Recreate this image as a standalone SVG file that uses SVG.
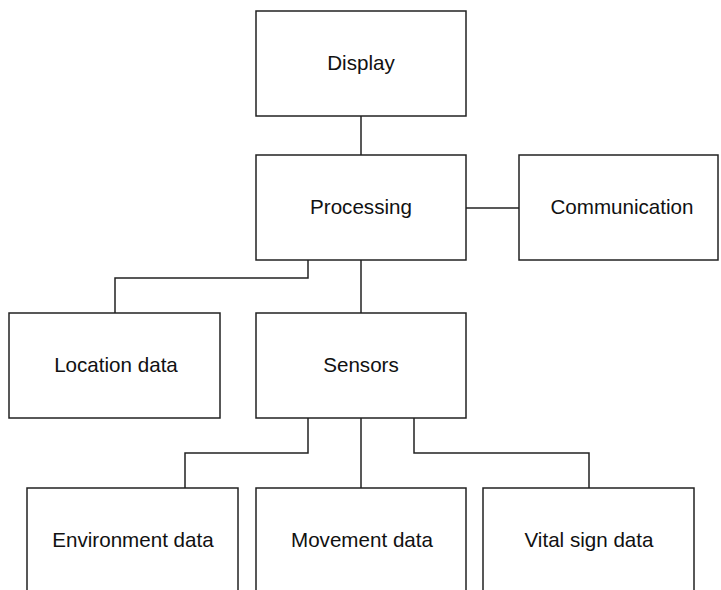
<svg xmlns="http://www.w3.org/2000/svg" width="721" height="590" viewBox="0 0 721 590">
<style>
.box{fill:#fff;stroke:#222;stroke-width:1.5}
.lbl{font-family:"Liberation Sans",Arial,Helvetica,sans-serif;font-size:20.6px;fill:#111;text-anchor:middle}
.conn{fill:none;stroke:#222;stroke-width:1.5}
</style>
<rect width="721" height="590" fill="#fff"/>
<g id="connectors">
<path class="conn" d="M361,116 V155"/>
<path class="conn" d="M466,208 H519"/>
<path class="conn" d="M308,260 V278 H115 V313"/>
<path class="conn" d="M361,260 V313"/>
<path class="conn" d="M308,418 V453 H185 V488"/>
<path class="conn" d="M361,418 V488"/>
<path class="conn" d="M414,418 V453 H589 V488"/>
</g>
<g id="display"><rect class="box" x="256" y="11" width="210" height="105"/><text class="lbl" x="361" y="70">Display</text></g>
<g id="processing"><rect class="box" x="256" y="155" width="210" height="105"/><text class="lbl" x="361" y="214">Processing</text></g>
<g id="communication"><rect class="box" x="519" y="155" width="199" height="105"/><text class="lbl" x="622" y="214">Communication</text></g>
<g id="location"><rect class="box" x="9" y="313" width="211" height="105"/><text class="lbl" x="116" y="372">Location data</text></g>
<g id="sensors"><rect class="box" x="256" y="313" width="210" height="105"/><text class="lbl" x="361" y="372">Sensors</text></g>
<g id="environment"><rect class="box" x="27" y="488" width="211" height="105"/><text class="lbl" x="133" y="547">Environment data</text></g>
<g id="movement"><rect class="box" x="256" y="488" width="210" height="105"/><text class="lbl" x="362" y="547">Movement data</text></g>
<g id="vital"><rect class="box" x="483" y="488" width="211" height="105"/><text class="lbl" x="589" y="547">Vital sign data</text></g>
</svg>
